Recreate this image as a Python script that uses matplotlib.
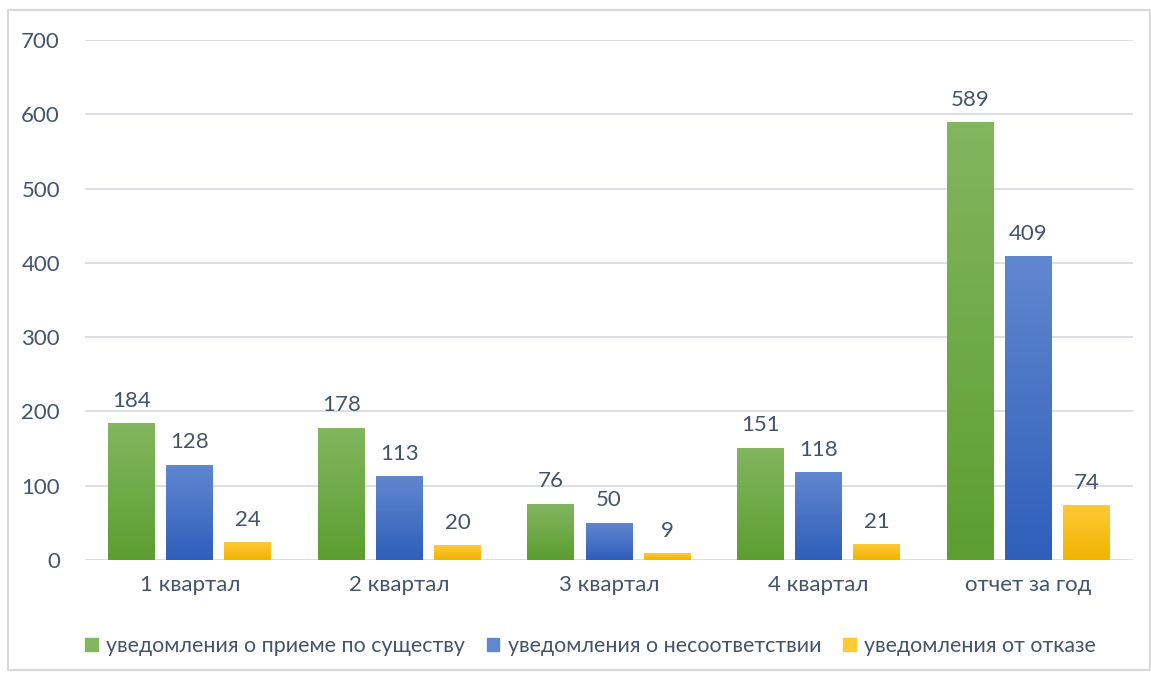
import numpy as np
import matplotlib.pyplot as plt
from matplotlib.colors import LinearSegmentedColormap
from matplotlib.patches import Rectangle

categories = ['1 квартал', '2 квартал', '3 квартал', '4 квартал', 'отчет за год']
series_names = ['уведомления о приеме по существу',
                'уведомления о несоответствии',
                'уведомления от отказе']
accepted = [184, 178, 76, 151, 589]
mismatch = [128, 113, 50, 118, 409]
refused = [24, 20, 9, 21, 74]

plt.rcParams['font.family'] = ['Lato', 'DejaVu Sans']
text_color = '#44546a'
grid_color = '#d9dde3'
fs = 16

# top colour, bottom colour for each series
shades = [('#82b65f', '#5c9e31'),
          ('#6187cf', '#2f5fbb'),
          ('#ffc936', '#f0b400')]

fig = plt.figure(figsize=(11.51, 6.75), dpi=100)
fig.patches.append(Rectangle((8 / 1151, 5 / 675), 1 - 9 / 1151, 1 - 15 / 675,
                             transform=fig.transFigure, fill=False,
                             edgecolor='#d9d9d9', linewidth=1.5))
ax = fig.add_axes([85 / 1151, 115 / 675, 1048 / 1151, 520 / 675])

x = np.arange(len(categories))
width = 0.224
step = 0.277
all_series = [accepted, mismatch, refused]

for i, vals in enumerate(all_series):
    bars = ax.bar(x + (i - 1) * step, vals, width, color=shades[i][1],
                  label=series_names[i], zorder=2)
    cmap = LinearSegmentedColormap.from_list('g', [shades[i][1], shades[i][0]])
    grad = np.linspace(0, 1, 256).reshape(-1, 1)
    for b in bars:
        x0, y0 = b.get_x(), b.get_y()
        im = ax.imshow(grad, cmap=cmap, origin='lower', aspect='auto',
                       extent=[x0, x0 + b.get_width(), y0, y0 + b.get_height()],
                       zorder=3)
        im.set_clip_path(b)
    for b, v in zip(bars, vals):
        ax.annotate(str(v), (b.get_x() + b.get_width() / 2, b.get_height()),
                    xytext=(0, 9), textcoords='offset points',
                    ha='center', va='bottom', fontsize=fs, color=text_color)

ax.set_xlim(-0.5, len(categories) - 0.5)
ax.set_ylim(0, 700)
ax.set_yticks(range(0, 701, 100))
ax.set_xticks(x)
ax.set_xticklabels(categories)
ax.tick_params(axis='both', length=0, labelsize=fs, labelcolor=text_color)
ax.tick_params(axis='y', pad=18)
ax.tick_params(axis='x', pad=11)
ax.yaxis.grid(True, color=grid_color, linewidth=1.3, zorder=0)
ax.set_axisbelow(True)
for s in ax.spines.values():
    s.set_visible(False)

handles, labels = ax.get_legend_handles_labels()
leg = fig.legend(handles, labels, loc='center', bbox_to_anchor=(0.513, 29 / 675),
                 ncol=3, frameon=False, fontsize=15.4, handlelength=0.6,
                 handleheight=0.6, handletextpad=0.4, columnspacing=1.0)
for t in leg.get_texts():
    t.set_color(text_color)
for h, sh in zip(leg.legend_handles, shades):
    h.set_color(sh[0])

fig.savefig('out.png', dpi=100)
